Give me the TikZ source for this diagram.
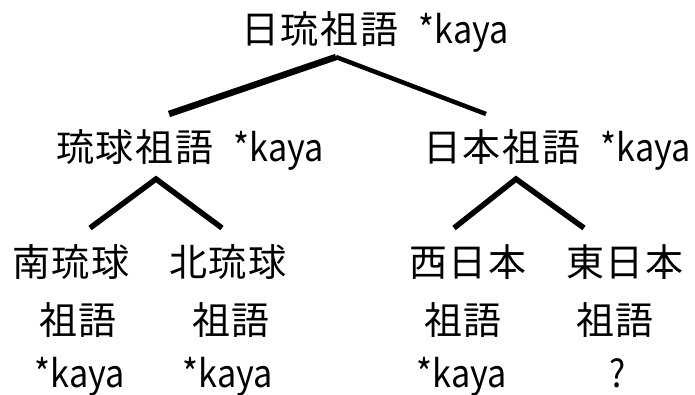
\documentclass[tikz,border=0pt]{standalone}
\usepackage{graphicx}
\usepackage{fontspec}
\setmainfont{Noto Sans CJK JP}
\newfontfamily\kjfont[LetterSpace=5]{Noto Sans CJK JP}
\newcommand{\kj}[1]{{\kjfont #1}}
\newcommand{\lt}[1]{\scalebox{0.9}[1]{#1}}
\newcommand{\gapk}{\hspace{20pt}}
\begin{document}
\begin{tikzpicture}[x=1pt,y=-1pt,
  lbl/.style={inner sep=0pt, anchor=base, font=\fontsize{38pt}{40pt}\selectfont},
  branch/.style={line width=5.5pt, line cap=butt, line join=miter}]
\useasboundingbox[fill=white] (0,0) rectangle (695,394);
% level 1
\node[lbl] (root) at (375,43) {\kj{日琉祖語}\gapk\lt{*kaya}};
% level 2
\node[lbl] (ryu) at (190,161) {\kj{琉球祖語}\gapk\lt{*kaya}};
\node[lbl] (jpn) at (557,161) {\kj{日本祖語}\gapk\lt{*kaya}};
% level 3
\node[lbl] (sr1) at (71,276) {\kj{南琉球}};
\node[lbl] (sr2) at (78,334) {\kj{祖語}};
\node[lbl] (sr3) at (80,387) {\lt{*kaya}};
\node[lbl] (nr1) at (228,276) {\kj{北琉球}};
\node[lbl] (nr2) at (231,334) {\kj{祖語}};
\node[lbl] (nr3) at (228,387) {\lt{*kaya}};
\node[lbl] (wj1) at (468,276) {\kj{西日本}};
\node[lbl] (wj2) at (463,334) {\kj{祖語}};
\node[lbl] (wj3) at (462,387) {\lt{*kaya}};
\node[lbl] (ej1) at (625,276) {\kj{東日本}};
\node[lbl] (ej2) at (615,334) {\kj{祖語}};
\node[lbl] (ej3) at (618,387) {\lt{?}};
% connector points
\coordinate (rootA) at (336,57);
\coordinate (ryuT) at (169,114);
\coordinate (jpnT) at (486,114);
\coordinate (ryuA) at (156,179);
\coordinate (srT) at (90,228);
\coordinate (nrT) at (222,228);
\coordinate (jpnA) at (516,179);
\coordinate (wjT) at (454,228);
\coordinate (ejT) at (584,228);
% connectors
\draw[branch, line width=6.5pt] (ryuT) -- (rootA);
\draw[branch, line width=4.5pt] (rootA) -- (jpnT);
\draw[branch] (srT) -- (ryuA) -- (nrT);
\draw[branch] (wjT) -- (jpnA) -- (ejT);
\end{tikzpicture}
\end{document}
